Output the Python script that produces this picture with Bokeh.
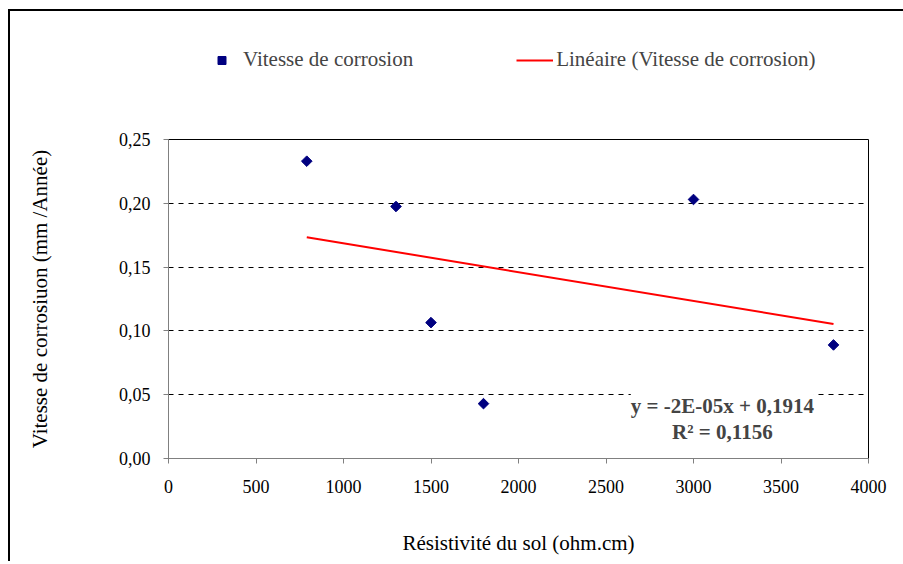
import math
import numpy as np
from bokeh.plotting import figure
from bokeh.layouts import column
from bokeh.models import (Legend, LegendItem, FixedTicker, Label, Range1d)
from bokeh.embed import file_html
from bokeh.resources import INLINE

# data
resistivite = [790, 1300, 1500, 1800, 3000, 3800]
vitesse = [0.233, 0.1975, 0.1065, 0.043, 0.203, 0.089]
x_ticks = [0, 500, 1000, 1500, 2000, 2500, 3000, 3500, 4000]
y_ticks = [0.0, 0.05, 0.10, 0.15, 0.20, 0.25]
y_tick_labels = ["0,00", "0,05", "0,10", "0,15", "0,20", "0,25"]
equation_text = "y = -2E-05x + 0,1914\nR² = 0,1156"
series_name = "Vitesse de corrosion"
trend_name = "Linéaire (Vitesse de corrosion)"

# linear trend from data
slope, intercept = np.polyfit(resistivite, vitesse, 1)
trend_x = [min(resistivite), max(resistivite)]
trend_y = [slope * v + intercept for v in trend_x]

FONT = "Liberation Serif"
PT_COLOR = "#000080"
TREND_COLOR = "#ff0000"
MARKER = dict(marker="square", size=7.5, angle=math.pi / 4,
              fill_color=PT_COLOR, line_color=PT_COLOR)

# ---- legend strip (top); its ranges keep the series out of view, only the legend shows ----
top = figure(width=893, height=118, output_backend="svg", toolbar_location=None,
             x_axis_type=None, y_axis_type=None,
             x_range=Range1d(0, 4000), y_range=Range1d(10, 11),
             min_border_left=158, min_border_right=35, min_border_top=0, min_border_bottom=0)
top.outline_line_color = None
top.grid.visible = False
lg_sc = top.scatter(resistivite, vitesse, **MARKER)
lg_ln = top.line(trend_x, trend_y, line_color=TREND_COLOR, line_width=2)
legend = Legend(items=[LegendItem(label=series_name, renderers=[lg_sc]),
                       LegendItem(label=trend_name, renderers=[lg_ln])],
                orientation="horizontal", location=(35, 57),
                label_text_font=FONT, label_text_font_size="21px",
                border_line_color=None, background_fill_alpha=0,
                glyph_width=37, label_standoff=3, spacing=103, padding=0, margin=0)
top.add_layout(legend, "center")

# ---- main chart ----
p = figure(width=893, height=432, output_backend="svg", toolbar_location=None,
           x_range=(0, 4000), y_range=(0, 0.25),
           min_border_left=158, min_border_right=35, min_border_top=10, min_border_bottom=103)
p.outline_line_color = "black"
p.outline_line_width = 1
p.xgrid.visible = False
p.ygrid.grid_line_color = "black"
p.ygrid.grid_line_dash = "5 5"
p.ygrid.grid_line_width = 1

for ax in (p.xaxis[0], p.yaxis[0]):
    ax.axis_line_color = "#808080"
    ax.major_tick_line_color = "#808080"
    ax.major_tick_out = 5
    ax.major_tick_in = 0
    ax.minor_tick_line_color = None
    ax.major_label_text_font = FONT
    ax.major_label_text_font_size = "18px"
    ax.major_label_text_color = "black"
    ax.axis_label_text_font = FONT
    ax.axis_label_text_font_style = "normal"
    ax.axis_label_text_color = "black"

p.xaxis.ticker = FixedTicker(ticks=x_ticks)
p.yaxis.ticker = FixedTicker(ticks=y_ticks)
p.yaxis.major_label_overrides = {t: l for t, l in zip(y_ticks, y_tick_labels)}
p.xaxis.major_label_standoff = 16
p.yaxis.major_label_standoff = 13
p.xaxis.axis_label = "Résistivité du sol (ohm.cm)"
p.xaxis.axis_label_text_font_size = "21px"
p.xaxis.axis_label_standoff = 35
p.yaxis.axis_label = "Vitesse de corrosiuon (mm /Année)"
p.yaxis.axis_label_text_font_size = "21px"
p.yaxis.axis_label_standoff = 64

p.scatter(resistivite, vitesse, **MARKER)
p.line(trend_x, trend_y, line_color=TREND_COLOR, line_width=2)

eq = Label(x=3165, y=0.031, x_units="data", y_units="data", text=equation_text,
           text_font=FONT, text_font_style="bold", text_font_size="21px",
           text_align="center", text_baseline="middle", text_line_height=1.1,
           background_fill_color="white", background_fill_alpha=1.0)
p.add_layout(eq)

layout = column(top, p, spacing=0)
layout.styles = {"border-top": "2px solid black", "border-left": "2px solid black",
                 "margin-left": "8px", "margin-top": "9px"}

open("out.html", "w").write(file_html(layout, INLINE))
